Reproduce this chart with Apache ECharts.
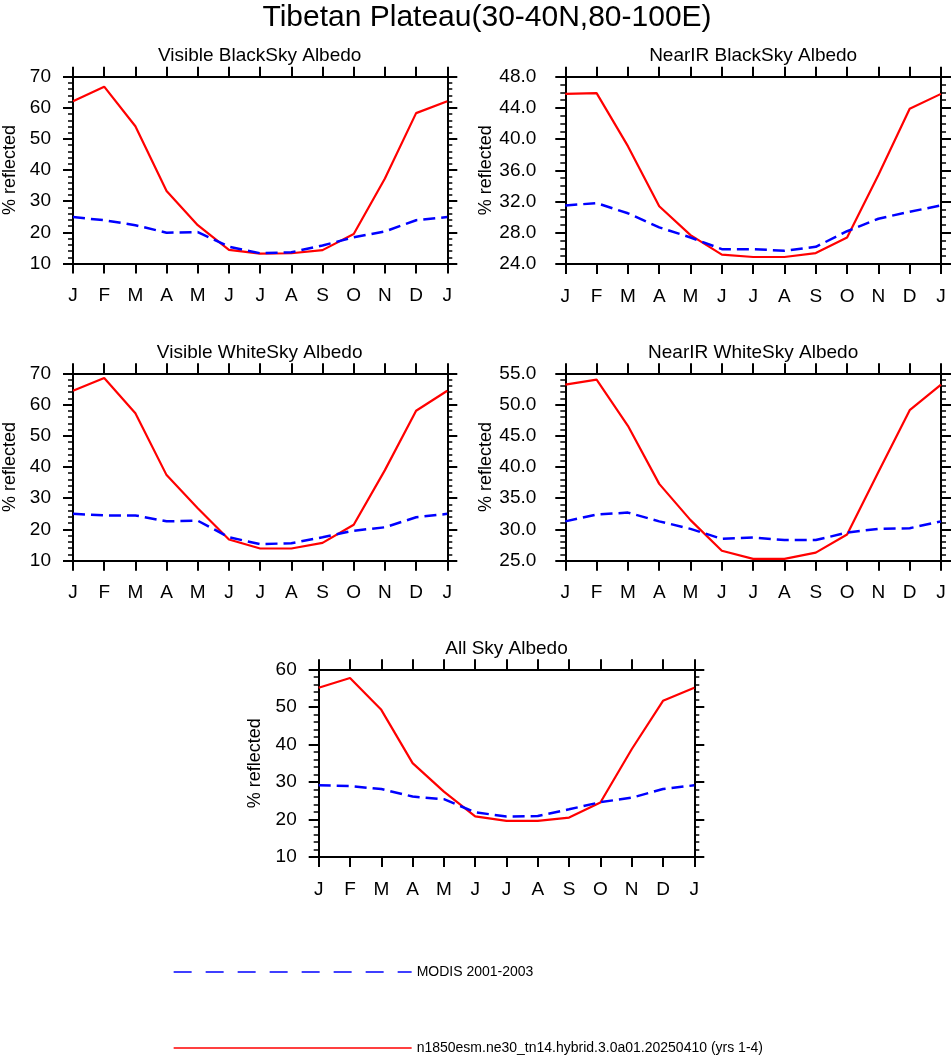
<!DOCTYPE html>
<html>
<head>
<meta charset="utf-8">
<script src="https://cdn.jsdelivr.net/npm/echarts@6/dist/echarts.min.js"></script>
<style>
html,body{margin:0;padding:0;background:#fff;}
#chart{width:952px;height:1056px;}
</style>
</head>
<body>
<div id="chart"></div>
<script>
const months = ['J','F','M','A','M','J','J','A','S','O','N','D','J'];

const visBlackModel = [62.1, 66.8, 54.1, 33.3, 22.3, 14.4, 13.2, 13.3, 14.3, 19.5, 37.3, 58.3, 62.1];
const visBlackModis = [24.9, 23.9, 22.3, 19.9, 20.1, 15.4, 13.3, 13.6, 15.8, 18.4, 20.3, 23.9, 24.9];

const nirBlackModel = [45.8, 45.9, 39.1, 31.4, 27.7, 25.2, 24.9, 24.9, 25.4, 27.4, 35.4, 43.9, 45.8];
const nirBlackModis = [31.5, 31.8, 30.5, 28.7, 27.4, 25.9, 25.9, 25.7, 26.2, 28.2, 29.8, 30.7, 31.5];

const visWhiteModel = [64.4, 68.5, 57.2, 37.4, 26.8, 16.8, 13.9, 13.9, 15.7, 21.5, 39.0, 58.0, 64.4];
const visWhiteModis = [25.0, 24.5, 24.5, 22.6, 22.8, 17.5, 15.3, 15.6, 17.5, 19.6, 20.7, 23.9, 25.0];

const nirWhiteModel = [53.2, 54.0, 46.6, 37.3, 31.5, 26.6, 25.3, 25.3, 26.3, 29.2, 39.2, 49.1, 53.2];
const nirWhiteModis = [31.3, 32.4, 32.7, 31.3, 30.1, 28.5, 28.7, 28.3, 28.3, 29.5, 30.1, 30.2, 31.3];

const allSkyModel = [55.1, 57.7, 49.2, 35.0, 27.4, 20.8, 19.6, 19.6, 20.5, 24.5, 38.7, 51.6, 55.1];
const allSkyModis = [29.1, 28.9, 28.1, 26.1, 25.4, 21.9, 20.8, 20.9, 22.7, 24.6, 25.8, 28.1, 29.1];

const panelTitles = ['Visible BlackSky Albedo', 'NearIR BlackSky Albedo', 'Visible WhiteSky Albedo', 'NearIR WhiteSky Albedo', 'All Sky Albedo'];
const mainTitle = 'Tibetan Plateau(30-40N,80-100E)';
const yName = '% reflected';
const modisName = 'MODIS 2001-2003';
const modelName = 'n1850esm.ne30_tn14.hybrid.3.0a01.20250410 (yrs 1-4)';

const FONT = "'Liberation Sans', Arial, Helvetica, sans-serif";

const panels = [
  {model: visBlackModel, modis: visBlackModis, min: 10, max: 70, interval: 10, minor: 5, dec: 0,
   grid: {left: 72, top: 76.7, width: 375.3, height: 186.8}, labelMargin: 22, nameGap: 54},
  {model: nirBlackModel, modis: nirBlackModis, min: 24, max: 48, interval: 4, minor: 4, dec: 1,
   grid: {left: 565.3, top: 76.7, width: 375.7, height: 187.3}, labelMargin: 29, nameGap: 70},
  {model: visWhiteModel, modis: visWhiteModis, min: 10, max: 70, interval: 10, minor: 5, dec: 0,
   grid: {left: 72, top: 373.3, width: 375.3, height: 187.4}, labelMargin: 22, nameGap: 54},
  {model: nirWhiteModel, modis: nirWhiteModis, min: 25, max: 55, interval: 5, minor: 5, dec: 1,
   grid: {left: 565.3, top: 373.3, width: 375.7, height: 187.4}, labelMargin: 29, nameGap: 70},
  {model: allSkyModel, modis: allSkyModis, min: 10, max: 60, interval: 10, minor: 5, dec: 0,
   grid: {left: 318.7, top: 669.3, width: 375.6, height: 187.7}, labelMargin: 22, nameGap: 55}
];

const lineAxis = {show: true, onZero: false, lineStyle: {color: '#000', width: 2}};
const tickStyle = {show: true, inside: false, length: 10, lineStyle: {color: '#000', width: 2}};

const grids = [], xAxes = [], yAxes = [], series = [], titles = [];

titles.push({
  text: mainTitle, left: 482, top: -2, textAlign: 'center',
  textStyle: {fontFamily: FONT, fontSize: 30, fontWeight: 'normal', color: '#000'}
});

panels.forEach((p, i) => {
  grids.push(Object.assign({containLabel: false}, p.grid));
  titles.push({
    text: panelTitles[i], left: p.grid.left + p.grid.width / 2, top: p.grid.top - 30,
    textAlign: 'center', padding: 0,
    textStyle: {fontFamily: FONT, fontSize: 19, fontWeight: 'normal', color: '#000'}
  });
  const xi = xAxes.length;
  xAxes.push({
    type: 'value', gridIndex: i, position: 'bottom', min: 0, max: 12, interval: 1,
    axisLine: lineAxis, axisTick: tickStyle, splitLine: {show: false},
    axisLabel: {show: true, margin: 23, color: '#000', fontFamily: FONT, fontSize: 19,
      formatter: v => months[Math.round(v)]}
  });
  xAxes.push({
    type: 'value', gridIndex: i, position: 'top', min: 0, max: 12, interval: 1,
    axisLine: lineAxis, axisTick: tickStyle, splitLine: {show: false}, axisLabel: {show: false}
  });
  const yi = yAxes.length;
  yAxes.push({
    type: 'value', gridIndex: i, position: 'left', min: p.min, max: p.max, interval: p.interval,
    name: yName, nameLocation: 'middle', nameGap: p.nameGap,
    nameTextStyle: {fontFamily: FONT, fontSize: 18, color: '#000'},
    axisLine: lineAxis, axisTick: tickStyle, splitLine: {show: false},
    minorTick: {show: true, splitNumber: p.minor, length: 5, lineStyle: {color: '#000', width: 1.5}},
    minorSplitLine: {show: false},
    axisLabel: {show: true, margin: p.labelMargin, color: '#000', fontFamily: FONT, fontSize: 19,
      formatter: v => v.toFixed(p.dec)}
  });
  yAxes.push({
    type: 'value', gridIndex: i, position: 'right', min: p.min, max: p.max, interval: p.interval,
    axisLine: lineAxis, axisTick: tickStyle, splitLine: {show: false},
    minorTick: {show: true, splitNumber: p.minor, length: 5, lineStyle: {color: '#000', width: 1.5}},
    minorSplitLine: {show: false}, axisLabel: {show: false}
  });
  series.push({
    name: modelName, type: 'line', xAxisIndex: xi, yAxisIndex: yi, symbol: 'none',
    lineStyle: {color: '#ff0000', width: 2.2}, itemStyle: {color: '#ff0000'},
    data: p.model.map((v, k) => [k, v]), z: 2
  });
  series.push({
    name: modisName, type: 'line', xAxisIndex: xi, yAxisIndex: yi, symbol: 'none',
    lineStyle: {color: '#0000ff', width: 2.5, type: [12, 6]}, itemStyle: {color: '#0000ff'},
    data: p.modis.map((v, k) => [k, v]), z: 3
  });
});

const legendCommon = {
  orient: 'horizontal', padding: 0, itemWidth: 238, itemHeight: 2, selectedMode: false,
  itemStyle: {opacity: 0},
  textStyle: {fontFamily: FONT, fontSize: 14, color: '#000'}
};

const chart = echarts.init(document.getElementById('chart'), null, {renderer: 'canvas'});
chart.setOption({
  animation: false,
  backgroundColor: '#fff',
  title: titles,
  grid: grids,
  xAxis: xAxes,
  yAxis: yAxes,
  legend: [
    Object.assign({}, legendCommon, {data: [modisName], left: 173, top: 965,
      lineStyle: {width: 1.3, type: [18, 14], color: '#0000ff'}}),
    Object.assign({}, legendCommon, {data: [modelName], left: 173, top: 1041,
      lineStyle: {width: 1.3, type: 'solid', color: '#ff0000'}})
  ],
  series: series
});
</script>
</body>
</html>
